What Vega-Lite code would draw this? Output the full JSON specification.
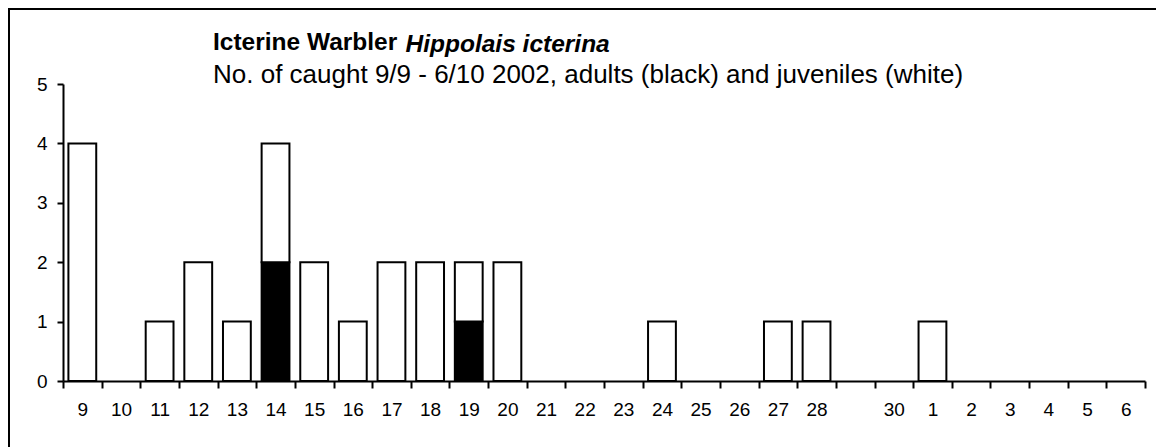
{
  "$schema": "https://vega.github.io/schema/vega-lite/v6.json",
  "autosize": "none",
  "width": 1167,
  "height": 458,
  "padding": {"left": 9, "top": 9, "right": -20, "bottom": -20},
  "background": "white",
  "config": {
    "font": "Liberation Sans",
    "view": {"stroke": "#000000", "strokeWidth": 2}
  },
  "title": {
    "text": "Icterine Warbler",
    "subtitle": "No. of caught 9/9 - 6/10 2002, adults (black) and juveniles (white)",
    "anchor": "start",
    "frame": "group",
    "orient": "top",
    "offset": -80,
    "dx": 204,
    "font": "Liberation Sans",
    "fontSize": 24.5,
    "fontWeight": "bold",
    "color": "#000000",
    "subtitleFont": "Liberation Sans",
    "subtitleFontSize": 26,
    "subtitleColor": "#000000",
    "subtitlePadding": 7
  },
  "data": {
    "values": [
      {"day": "9", "age": "juveniles", "n": 4},
      {"day": "11", "age": "juveniles", "n": 1},
      {"day": "12", "age": "juveniles", "n": 2},
      {"day": "13", "age": "juveniles", "n": 1},
      {"day": "14", "age": "adults", "n": 2},
      {"day": "14", "age": "juveniles", "n": 2},
      {"day": "15", "age": "juveniles", "n": 2},
      {"day": "16", "age": "juveniles", "n": 1},
      {"day": "17", "age": "juveniles", "n": 2},
      {"day": "18", "age": "juveniles", "n": 2},
      {"day": "19", "age": "adults", "n": 1},
      {"day": "19", "age": "juveniles", "n": 1},
      {"day": "20", "age": "juveniles", "n": 2},
      {"day": "24", "age": "juveniles", "n": 1},
      {"day": "27", "age": "juveniles", "n": 1},
      {"day": "28", "age": "juveniles", "n": 1},
      {"day": "1", "age": "juveniles", "n": 1}
    ]
  },
  "mark": {"type": "bar", "stroke": "#000000", "strokeWidth": 2, "width": {"band": 0.72}},
  "encoding": {
    "x": {
      "field": "day",
      "type": "ordinal",
      "scale": {
        "domain": ["9","10","11","12","13","14","15","16","17","18","19","20","21","22","23","24","25","26","27","28","29","30","1","2","3","4","5","6"],
        "range": [54, 1136],
        "paddingInner": 0,
        "paddingOuter": 0
      },
      "axis": {
        "orient": "bottom",
        "offset": -86,
        "title": null,
        "tickBand": "extent",
        "tickSize": 7,
        "tickColor": "#000000",
        "tickWidth": 2,
        "domainColor": "#000000",
        "domainWidth": 2,
        "labelAngle": 0,
        "labelFontSize": 19,
        "labelColor": "#000000",
        "labelPadding": 12,
        "labelExpr": "datum.value == '29' ? '' : datum.value",
        "grid": false
      }
    },
    "y": {
      "field": "n",
      "type": "quantitative",
      "stack": "zero",
      "scale": {"domain": [0, 5], "range": [372, 75], "nice": false, "zero": true},
      "axis": {
        "orient": "left",
        "offset": -54,
        "values": [0, 1, 2, 3, 4, 5],
        "tickSize": 6,
        "tickColor": "#000000",
        "tickWidth": 2,
        "domainColor": "#000000",
        "domainWidth": 2,
        "labelFontSize": 19,
        "labelColor": "#000000",
        "labelPadding": 10,
        "grid": false,
        "title": "Hippolais icterina",
        "titleAngle": 0,
        "titleAlign": "left",
        "titleBaseline": "alphabetic",
        "titleX": 342,
        "titleY": 42,
        "titleFont": "Liberation Sans",
        "titleFontSize": 24.5,
        "titleFontStyle": "italic",
        "titleFontWeight": "bold",
        "titleColor": "#000000"
      }
    },
    "fill": {
      "field": "age",
      "type": "nominal",
      "scale": {"domain": ["adults", "juveniles"], "range": ["#000000", "#ffffff"]},
      "legend": null
    },
    "order": {"field": "age", "type": "nominal", "sort": "ascending"}
  }
}
